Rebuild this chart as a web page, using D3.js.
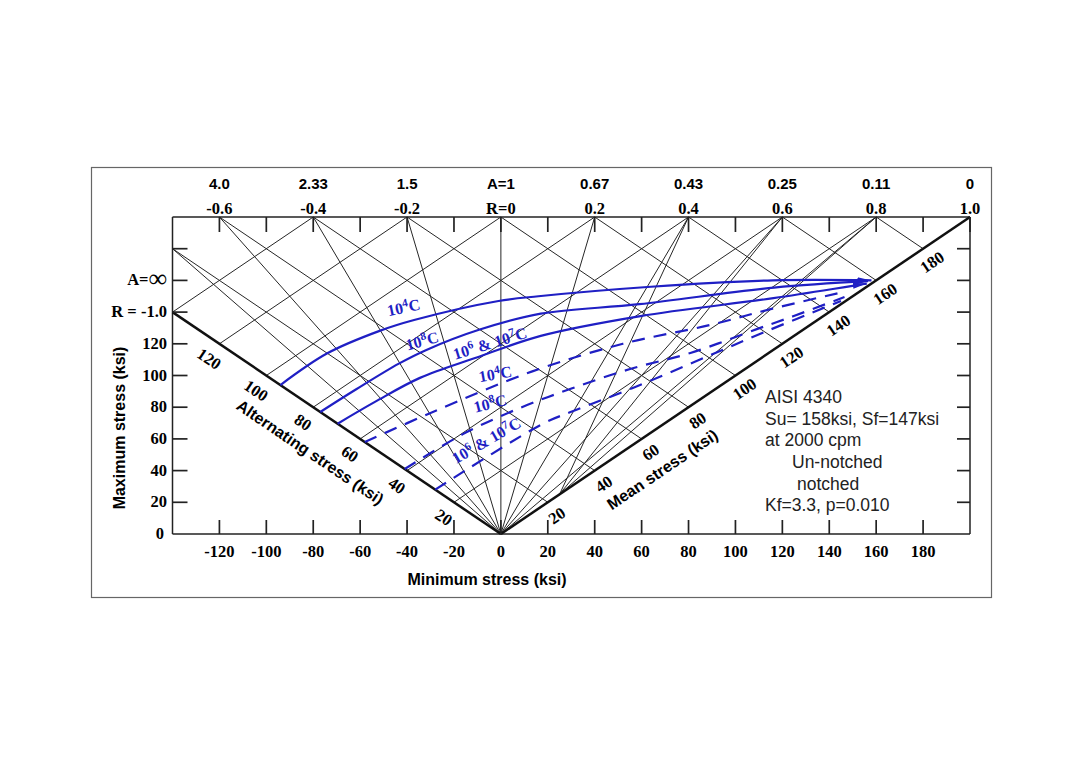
<!DOCTYPE html>
<html><head><meta charset="utf-8">
<script src="https://cdn.jsdelivr.net/npm/d3@7"></script>
<style>
html,body{margin:0;padding:0;background:#fff;}
svg{display:block;}
</style></head>
<body>
<svg id="chart" width="1080" height="764"></svg>
<script>
// ---------- data ----------
const MIN_TICKS = [-120,-100,-80,-60,-40,-20,0,20,40,60,80,100,120,140,160,180];
const TOP_TICKS = [-120,-100,-80,-60,-40,-20,0,20,40,60,80,100,120,140,160,180,200];
const R_VALUES = [-0.6,-0.4,-0.2,0,0.2,0.4,0.6,0.8,1.0];
const R_LABELS = ["-0.6","-0.4","-0.2","R=0","0.2","0.4","0.6","0.8","1.0"];
const A_LABELS = ["4.0","2.33","1.5","A=1","0.67","0.43","0.25","0.11","0"];
const MAX_TICKS = [20,40,60,80,100,120,140,160,180];
const MAX_LABELS = ["20","40","60","80","100","120","R = -1.0","A=\u221E",""];
const MEAN_TICKS = [20,40,60,80,100,120,140,160,180];
const ALT_TICKS = [20,40,60,80,100,120];
const RAY_R = [-0.6,-0.4,-0.2,0,0.2,0.4,0.6,0.8];
const EXTRA_RAY_R = [0.4,0.6,0.8];
const CONST_MEAN = [20,40,60,80,100,120,140,160,180];
const CONST_ALT = [20,40,60,80,100,120,140];

// constant-life curves (mean stress, alternating stress), ksi
const unnotched1e4_mean = [0, 20, 38, 49, 73, 83, 110, 138, 159];
const unnotched1e4_alt  = [94, 94, 90, 86, 74, 67, 46, 22, 1];
const unnotched1e8_mean = [0, 15, 32, 42, 60, 78, 102, 136, 158];
const unnotched1e8_alt  = [77, 76.5, 75.5, 74, 69, 61, 43, 19.5, 1.5];
const unnotched1e6_mean = [0, 15, 32, 50, 71, 98.5, 132.5, 157];
const unnotched1e6_alt  = [69.6, 68.5, 66.5, 61, 54, 39, 16.3, 1];
const notched1e4_mean = [0, 24, 58, 86, 110, 129, 150];
const notched1e4_alt  = [58, 53, 44.6, 34, 21.6, 13.2, 3];
const notched1e8_mean = [0, 23.4, 43.8, 61.4, 79.6, 97.5, 119.4, 131, 148];
const notched1e8_alt  = [41, 39.6, 35.7, 30.7, 24.5, 16.7, 10, 6.4, 1.5];
const notched1e6_mean = [0, 44, 54, 74, 100, 120, 146];
const notched1e6_alt  = [28, 25.8, 23.4, 18, 12, 7.5, 1];

const NOTE_LINES = ["AISI 4340","Su= 158ksi, Sf=147ksi","at 2000 cpm","Un-notched","notched","Kf=3.3, p=0.010"];

// ---------- drawing ----------
const svg = d3.select("#chart");
const x = d3.scaleLinear().domain([-140, 200]).range([172.5, 970]);
const y = d3.scaleLinear().domain([0, 200]).range([534, 217]);
const BLUE = "#1f1fc4";
const SERIF = "'Liberation Serif','Times New Roman',serif";
const SANS = "'Liberation Sans',Arial,sans-serif";
const NUM = 16.5;

// outer frame
svg.append("rect").attr("x",91.5).attr("y",167.5).attr("width",900).attr("height",430)
  .attr("fill","none").attr("stroke","#666").attr("stroke-width",1.2);

const g = svg.append("g");
function seg(x1,y1,x2,y2,w,c){
  g.append("line").attr("x1",x(x1)).attr("y1",y(y1)).attr("x2",x(x2)).attr("y2",y(y2))
   .attr("stroke",c||"#262626").attr("stroke-width",w||1);
}

// grid: rays from origin
RAY_R.forEach(r => seg(0,0,200*r,200));
seg(0,0,-140,180);
// extra lines from top points to the mean axis
EXTRA_RAY_R.forEach(r => seg(25,25,200*r,200));
// constant mean stress lines
CONST_MEAN.forEach(m => {
  let xe = 2*m-200, ye = 200;
  if (xe < -140){ xe = -140; ye = 2*m+140; }
  seg(m,m,xe,ye);
});
// constant alternating stress lines
CONST_ALT.forEach(a => seg(-a,a,200-2*a,200));

// plot border
seg(-140,0,200,0,1.5,"#222");
seg(-140,200,200,200,1.5,"#222");
seg(-140,0,-140,200,1.5,"#222");
seg(200,0,200,200,1.5,"#222");
// thick axes: alternating (R=-1) and mean (R=1)
seg(0,0,-140,140,2.5,"#111");
seg(0,0,200,200,2.5,"#111");

// bottom ticks and labels
MIN_TICKS.forEach(v => {
  g.append("line").attr("x1",x(v)).attr("x2",x(v)).attr("y1",y(0)).attr("y2",y(0)-14)
   .attr("stroke","#222").attr("stroke-width",1.7);
  g.append("text").attr("x",x(v)).attr("y",557).attr("text-anchor","middle")
   .attr("font-family",SERIF).attr("font-weight","bold").attr("font-size",NUM).text(v);
});
// top ticks
TOP_TICKS.forEach(v => {
  g.append("line").attr("x1",x(v)).attr("x2",x(v)).attr("y1",y(200)).attr("y2",y(200)+15)
   .attr("stroke","#222").attr("stroke-width",1.7);
});
R_VALUES.forEach((r,i) => {
  g.append("text").attr("x",x(200*r)).attr("y",214).attr("text-anchor","middle")
   .attr("font-family",SERIF).attr("font-weight","bold").attr("font-size",NUM).text(R_LABELS[i]);
  g.append("text").attr("x",x(200*r)).attr("y",189).attr("text-anchor","middle")
   .attr("font-family",SANS).attr("font-weight","bold").attr("font-size",15).text(A_LABELS[i]);
});
// left & right ticks
MAX_TICKS.forEach((v,i) => {
  g.append("line").attr("x1",x(-140)).attr("x2",x(-140)+15).attr("y1",y(v)).attr("y2",y(v))
   .attr("stroke","#222").attr("stroke-width",1.7);
  g.append("line").attr("x1",x(200)).attr("x2",x(200)-13).attr("y1",y(v)).attr("y2",y(v))
   .attr("stroke","#222").attr("stroke-width",1.7);
  const t = g.append("text").attr("x",167).attr("y",y(v)+5).attr("text-anchor","end")
   .attr("font-family",SERIF).attr("font-weight","bold").attr("font-size",NUM);
  const lab = MAX_LABELS[i];
  if (lab.indexOf("\u221E")>=0){
    t.append("tspan").text("A=");
    t.append("tspan").attr("font-size",26).attr("font-weight","normal").attr("dy",2).text("\u221E");
  } else t.text(lab);
});
g.append("text").attr("x",164).attr("y",y(0)+5).attr("text-anchor","end")
  .attr("font-family",SERIF).attr("font-weight","bold").attr("font-size",NUM).text("0");

// axis titles
g.append("text").attr("x",487).attr("y",585).attr("text-anchor","middle")
  .attr("font-family",SANS).attr("font-weight","bold").attr("font-size",16).text("Minimum stress  (ksi)");
g.append("text").attr("transform","translate(125,428) rotate(-90)").attr("text-anchor","middle")
  .attr("font-family",SANS).attr("font-weight","bold").attr("font-size",16).text("Maximum stress  (ksi)");

// alternating axis labels
const altAng = Math.atan2(y(0)-y(140), x(0)-x(-140));
const altDeg = altAng*180/Math.PI;
const pAlt = [-Math.sin(altAng), Math.cos(altAng)];
ALT_TICKS.forEach(a => {
  const px = x(-a) + pAlt[0]*18, py = y(a) + pAlt[1]*18;
  g.append("text").attr("transform",`translate(${px},${py}) rotate(${altDeg})`)
   .attr("text-anchor","middle").attr("dy","0.35em")
   .attr("font-family",SERIF).attr("font-weight","bold").attr("font-size",NUM).text(a);
});
{
  const a = 72, d = 39;
  const px = x(-a) + pAlt[0]*d, py = y(a) + pAlt[1]*d;
  g.append("text").attr("transform",`translate(${px},${py}) rotate(${altDeg})`)
   .attr("text-anchor","middle").attr("dy","0.35em")
   .attr("font-family",SANS).attr("font-weight","bold").attr("font-size",16).text("Alternating stress  (ksi)");
}
// mean axis labels
const meanAng = Math.atan2(y(200)-y(0), x(200)-x(0));
const meanDeg = meanAng*180/Math.PI;
const pMean = [-Math.sin(meanAng), Math.cos(meanAng)];
MEAN_TICKS.forEach(m => {
  const px = x(m) + pMean[0]*16, py = y(m) + pMean[1]*16;
  g.append("text").attr("transform",`translate(${px},${py}) rotate(${meanDeg})`)
   .attr("text-anchor","middle").attr("dy","0.35em")
   .attr("font-family",SERIF).attr("font-weight","bold").attr("font-size",NUM).text(m);
});
{
  const m = 60, d = 37;
  const px = x(m) + pMean[0]*d, py = y(m) + pMean[1]*d;
  g.append("text").attr("transform",`translate(${px},${py}) rotate(${meanDeg})`)
   .attr("text-anchor","middle").attr("dy","0.35em")
   .attr("font-family",SANS).attr("font-weight","bold").attr("font-size",16).text("Mean stress  (ksi)");
}

// curves
const defs = svg.append("defs");
defs.append("marker").attr("id","arr").attr("viewBox","0 0 14 6").attr("refX",14).attr("refY",3)
  .attr("markerWidth",14).attr("markerHeight",6).attr("markerUnits","userSpaceOnUse").attr("orient","auto")
  .append("path").attr("d","M0,0 L14,3 L0,6 z").attr("fill",BLUE);

const line = d3.line().x(d => x(d[0]-d[1])).y(d => y(d[0]+d[1])).curve(d3.curveCatmullRom.alpha(0.5));
function curve(ms, as, dashed){
  const pts = ms.map((m,i)=>[m, as[i]]);
  const p = g.append("path").attr("d", line(pts)).attr("fill","none")
    .attr("stroke",BLUE).attr("stroke-width",2.2);
  if (dashed) p.attr("stroke-dasharray","13,9");
  else p.attr("marker-end","url(#arr)");
}
curve(unnotched1e4_mean, unnotched1e4_alt, false);
curve(unnotched1e8_mean, unnotched1e8_alt, false);
curve(unnotched1e6_mean, unnotched1e6_alt, false);
curve(notched1e4_mean, notched1e4_alt, true);
curve(notched1e8_mean, notched1e8_alt, true);
curve(notched1e6_mean, notched1e6_alt, true);

// curve labels  [sigma_min, sigma_max, angle, parts]
function cLabel(smin, smax, ang, parts){
  const t = g.append("text").attr("transform",`translate(${x(smin)},${y(smax)}) rotate(${ang})`)
    .attr("text-anchor","middle").attr("dy","0.35em")
    .attr("font-family",SERIF).attr("font-weight","bold").attr("font-size",16).attr("fill",BLUE);
  parts.forEach(p => {
    if (p.sup) t.append("tspan").attr("dy",-6).attr("font-size",11.5).text(p.sup);
    else t.append("tspan").attr("dy", p.after ? 6 : 0).text(p.t);
  });
}
const L4 = [{t:"10"},{sup:"4"},{t:"C",after:true}];
const L8 = [{t:"10"},{sup:"8"},{t:"C",after:true}];
const L67 = [{t:"10"},{sup:"6"},{t:" & 10",after:true},{sup:"7"},{t:"C",after:true}];
cLabel(-41, 139.5, -12, L4);
cLabel(-33, 118.5, -15, L8);
cLabel(-4, 117, -17, L67);
cLabel(-2, 97.5, -10, L4);
cLabel(-4, 79, -14, L8);
cLabel(-5, 56, -30, L67);

// note block
const nx = [765,765,765,792,797,765];
const ny = [403,425,446,468,490,511];
NOTE_LINES.forEach((s,i)=>{
  g.append("text").attr("x",nx[i]).attr("y",ny[i]).attr("font-family",SANS)
   .attr("font-size",17.5).attr("fill","#222").text(s);
});
</script>
</body></html>
